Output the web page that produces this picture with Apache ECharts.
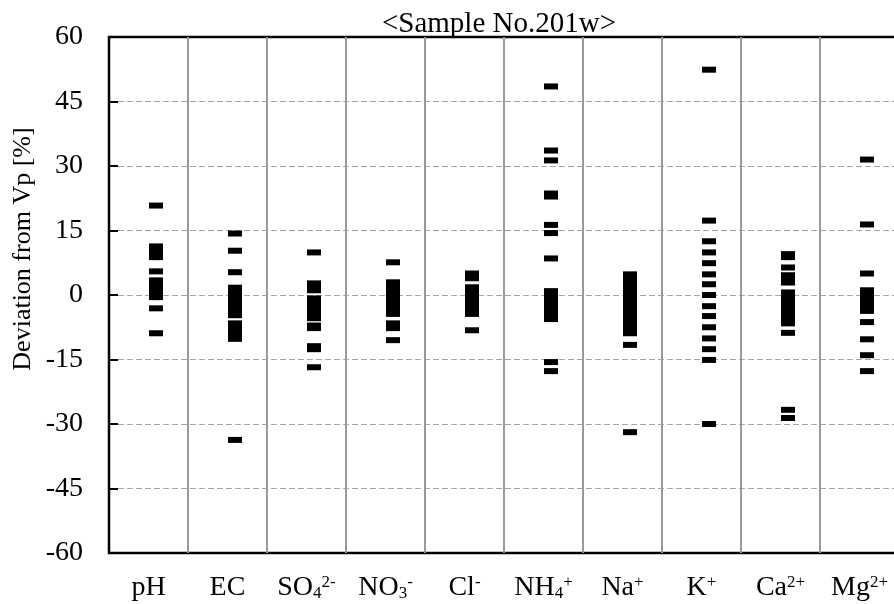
<!DOCTYPE html>
<html>
<head>
<meta charset="utf-8">
<script src="https://cdn.jsdelivr.net/npm/echarts@6/dist/echarts.min.js"></script>
<style>html,body{margin:0;padding:0;background:#fff;}#chart{width:894px;height:604px;}</style>
</head>
<body>
<div id="chart"></div>
<script>
// ---- data ----
const titleText = '<Sample No.201w>';
const yAxisTitle = 'Deviation from Vp [%]';
const categories = ['pH', 'EC', 'SO4', 'NO3', 'Cl', 'NH4', 'Na', 'K', 'Ca', 'Mg'];
const tickLabels = ['pH', 'EC', 'SO{sub|4}{sup|2-}', 'NO{sub|3}{sup|-}', 'Cl{sup|-}',
  'NH{sub|4}{sup|+}', 'Na{sup|+}', 'K{sup|+}', 'Ca{sup|2+}', 'Mg{sup|2+}'];
const yMin = -60, yMax = 60, yStep = 15;

const phVals  = [20.8, 11.3, 10.4, 9.6, 8.8, 5.5, 3.4, 2.4, 1.4, 0.5, -0.5, -3.1, -8.9];
const ecVals  = [14.3, 10.3, 5.3, 1.7, 0.8, -0.1, -1.0, -2.0, -2.9, -3.8, -4.7, -6.6, -7.8, -9.0, -10.2, -33.7];
const so4Vals = [9.9, 2.7, 1.9, 1.1, -0.8, -1.9, -3.1, -4.2, -5.4, -7.1, -7.7, -11.9, -12.6, -16.8];
const no3Vals = [7.6, 2.95, 2.0, 1.1, 0.2, -0.7, -1.6, -2.5, -3.5, -4.4, -6.6, -7.7, -10.5];
const clVals  = [5.0, 3.9, 1.8, 0.9, 0.0, -0.9, -1.8, -2.6, -3.5, -4.4, -8.2];
const nh4Vals = [48.5, 33.6, 31.3, 23.6, 22.9, 16.3, 14.4, 8.5, 0.9, 0.0, -0.9, -1.9, -2.8, -3.7, -4.7, -5.6, -15.6, -17.7];
const naVals  = [4.8, 3.9, 2.9, 2.0, 1.1, 0.2, -0.8, -1.7, -2.6, -3.5, -4.4, -5.3, -6.2, -7.2, -8.1, -8.9, -11.6, -31.9];
const kVals   = [52.4, 17.3, 12.5, 9.9, 7.4, 4.8, 2.5, 0.0, -2.6, -4.9, -7.5, -10.1, -12.6, -15.1, -30.0];
const caVals  = [9.5, 8.8, 6.4, 4.6, 3.7, 2.9, 0.6, -0.3, -1.2, -2.2, -3.1, -4.0, -4.9, -5.8, -6.6, -8.8, -26.7, -28.6];
const mgVals  = [31.5, 16.4, 5.0, 1.1, 0.1, -0.8, -1.8, -2.8, -3.7, -6.3, -10.3, -14.0, -17.7];

const valueSets = [phVals, ecVals, so4Vals, no3Vals, clVals, nh4Vals, naVals, kVals, caVals, mgVals];

// ---- build ----
const points = [];
valueSets.forEach((vals, i) => vals.forEach(v => points.push([i, v])));

const FONT = "'Times New Roman', 'Liberation Serif', serif";
const chart = echarts.init(document.getElementById('chart'), null, {renderer: 'canvas'});
chart.setOption({
  animation: false,
  backgroundColor: '#fff',
  title: {
    text: titleText,
    left: 494, top: 5, textAlign: 'center',
    textStyle: {fontFamily: FONT, fontSize: 29, fontWeight: 'normal', color: '#000', lineHeight: 29}
  },
  graphic: [{
    type: 'text', x: 23, y: 249, rotation: Math.PI / 2,
    style: {text: yAxisTitle, font: '26px ' + FONT, fill: '#000',
      align: 'center', verticalAlign: 'middle', textAlign: 'center', textVerticalAlign: 'middle'}
  }],
  grid: {left: 109, top: 37, width: 790, height: 516, outerBoundsMode: 'none', containLabel: false,
    show: true, borderColor: '#000', borderWidth: 2.5, backgroundColor: 'transparent'},
  xAxis: {
    type: 'category', data: categories, boundaryGap: true,
    axisLine: {show: false}, axisTick: {show: false},
    splitLine: {show: true, interval: 0, showMinLine: false, showMaxLine: false, lineStyle: {color: '#9a9a9a', width: 2}},
    axisLabel: {
      interval: 0, margin: 21, color: '#000',
      formatter: (v, i) => tickLabels[i],
      fontFamily: FONT, fontSize: 28, lineHeight: 28,
      rich: {
        sub: {fontFamily: FONT, fontSize: 17, lineHeight: 17, verticalAlign: 'bottom', color: '#000'},
        sup: {fontFamily: FONT, fontSize: 17, lineHeight: 17, verticalAlign: 'top', color: '#000'}
      }
    }
  },
  yAxis: {
    type: 'value', min: yMin, max: yMax, interval: yStep,
    axisLine: {show: false},
    axisTick: {show: true, inside: true, length: 9, lineStyle: {color: '#000', width: 2}},
    splitLine: {show: true, showMinLine: false, showMaxLine: false, lineStyle: {color: '#a6a6a6', width: 1, type: [6, 3]}},
    axisLabel: {margin: 26, color: '#000', fontFamily: FONT, fontSize: 28}
  },
  series: [{
    type: 'scatter', data: points,
    symbol: 'rect', symbolSize: [14, 6], symbolOffset: [7.5, 0],
    itemStyle: {color: '#000', opacity: 1}, silent: true
  }]
});
</script>
</body>
</html>
